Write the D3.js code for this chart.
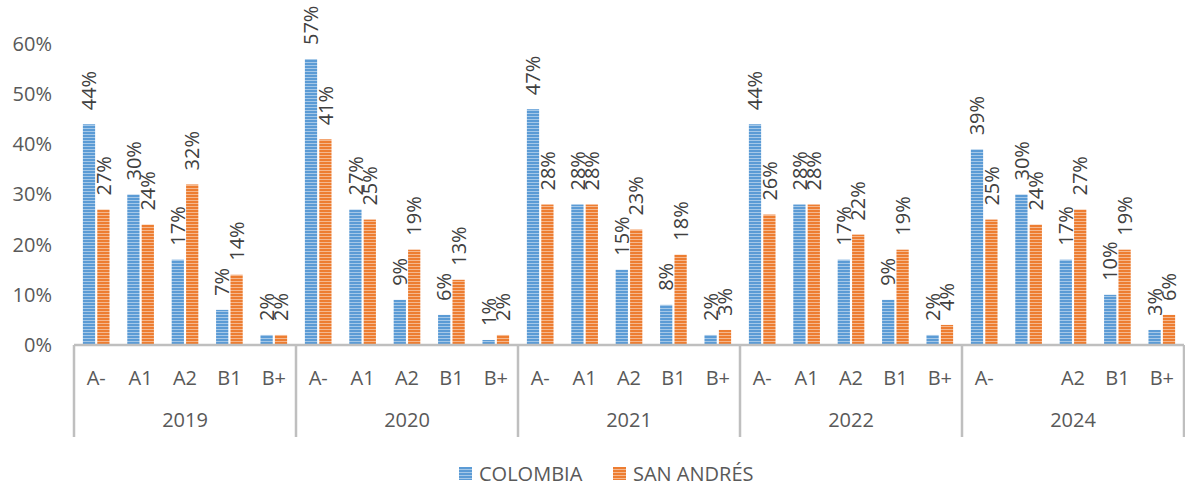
<!DOCTYPE html>
<html>
<head>
<meta charset="utf-8">
<script src="https://cdn.jsdelivr.net/npm/d3@7"></script>
<style>
  body { margin: 0; background: #fff; }
  text { font-family: "Open Sans", sans-serif; }
</style>
</head>
<body>
<script>
// chart data
const years = ["2019", "2020", "2021", "2022", "2024"];
const levels = ["A-", "A1", "A2", "B1", "B+"];
// axis labels as shown (2024 / A1 has no label in the original)
const tickLabels = [
  ["A-", "A1", "A2", "B1", "B+"],
  ["A-", "A1", "A2", "B1", "B+"],
  ["A-", "A1", "A2", "B1", "B+"],
  ["A-", "A1", "A2", "B1", "B+"],
  ["A-", "", "A2", "B1", "B+"]
];
const seriesNames = ["COLOMBIA", "SAN ANDRÉS"];
const colombia = [
  [0.44, 0.30, 0.17, 0.07, 0.02],
  [0.57, 0.27, 0.09, 0.06, 0.01],
  [0.47, 0.28, 0.15, 0.08, 0.02],
  [0.44, 0.28, 0.17, 0.09, 0.02],
  [0.39, 0.30, 0.17, 0.10, 0.03]
];
const sanAndres = [
  [0.27, 0.24, 0.32, 0.14, 0.02],
  [0.41, 0.25, 0.19, 0.13, 0.02],
  [0.28, 0.28, 0.23, 0.18, 0.03],
  [0.26, 0.28, 0.22, 0.19, 0.04],
  [0.25, 0.24, 0.27, 0.19, 0.06]
];
const yTicks = [0, 0.1, 0.2, 0.3, 0.4, 0.5, 0.6];

const width = 1185, height = 486;
const colors = ["#5b9bd5", "#ed7d31"];
const axisGray = "#bfbfbf";

const svg = d3.select("body").append("svg")
  .attr("width", width)
  .attr("height", height);

// striped fills
const defs = svg.append("defs");
colors.forEach((c, i) => {
  const p = defs.append("pattern")
    .attr("id", "stripe" + i)
    .attr("patternUnits", "userSpaceOnUse")
    .attr("width", 6).attr("height", 3);
  p.append("rect").attr("width", 6).attr("height", 3).attr("fill", c);
  p.append("rect").attr("y", 2).attr("width", 6).attr("height", 1)
    .attr("fill", "#fff").attr("opacity", 0.45);
});

const plotLeft = 74, plotRight = 1184, baseY = 345, topY = 44;

const y = d3.scaleLinear().domain([0, 0.6]).range([baseY, topY]);

const keys = [];
years.forEach((yr, i) => levels.forEach((lv, j) => keys.push(i + "|" + j)));

const xYear = d3.scaleBand().domain(years).range([plotLeft, plotRight]);
const xCat = d3.scaleBand().domain(keys).range([plotLeft, plotRight]);
const xSer = d3.scaleBand().domain(seriesNames)
  .range([xCat.bandwidth() * 0.2, xCat.bandwidth() * 0.8]).paddingInner(0.15);

// y axis
const yAxis = svg.append("g")
  .attr("transform", "translate(" + (plotLeft - 22) + ",0)")
  .call(d3.axisLeft(y).tickValues(yTicks).tickFormat(d3.format(".0%")).tickSize(0).tickPadding(0));
yAxis.select(".domain").remove();
yAxis.selectAll("text")
  .attr("fill", "#595959")
  .style("font-size", "20px")
  .style("font-family", "Open Sans");

// bars
const rows = [];
years.forEach((yr, i) => levels.forEach((lv, j) => {
  rows.push({ key: i + "|" + j, s: seriesNames[0], v: colombia[i][j], idx: 0 });
  rows.push({ key: i + "|" + j, s: seriesNames[1], v: sanAndres[i][j], idx: 1 });
}));

svg.append("g").selectAll("rect")
  .data(rows)
  .enter()
  .append("rect")
  .attr("x", d => xCat(d.key) + xSer(d.s))
  .attr("y", d => y(d.v))
  .attr("width", xSer.bandwidth())
  .attr("height", d => baseY - y(d.v))
  .attr("fill", d => "url(#stripe" + d.idx + ")");

// data labels, rotated
svg.append("g").selectAll("text")
  .data(rows)
  .enter()
  .append("text")
  .attr("transform", d => "translate(" + (xCat(d.key) + xSer(d.s) + xSer.bandwidth() / 2) + "," + (y(d.v) - 14) + ") rotate(-90)")
  .attr("dy", "0.36em")
  .attr("fill", "#404040")
  .style("font-size", "20px")
  .text(d => Math.round(d.v * 100) + "%");

// category axis
const xAxis = svg.append("g")
  .attr("transform", "translate(0," + baseY + ")")
  .call(d3.axisBottom(xCat).tickSize(0).tickPadding(0)
    .tickFormat(k => { const p = k.split("|"); return tickLabels[+p[0]][+p[1]]; }));
xAxis.select(".domain").remove();
xAxis.selectAll("text")
  .attr("y", 33)
  .attr("dy", "0.35em")
  .attr("fill", "#595959")
  .style("font-size", "20px")
  .style("font-family", "Open Sans");

const yearAxis = svg.append("g")
  .attr("transform", "translate(0," + baseY + ")")
  .call(d3.axisBottom(xYear).tickSize(0).tickPadding(0));
yearAxis.select(".domain").remove();
yearAxis.selectAll("text")
  .attr("y", 75)
  .attr("dy", "0.35em")
  .attr("fill", "#595959")
  .style("font-size", "20px")
  .style("font-family", "Open Sans");

// axis lines and group separators
svg.append("line")
  .attr("x1", plotLeft).attr("x2", plotRight)
  .attr("y1", baseY).attr("y2", baseY)
  .attr("stroke", axisGray).attr("stroke-width", 2.5);

const seps = years.map(yr => xYear(yr)).concat([plotRight]);
svg.append("g").selectAll("line")
  .data(seps)
  .enter()
  .append("line")
  .attr("x1", d => d).attr("x2", d => d)
  .attr("y1", baseY).attr("y2", 437)
  .attr("stroke", axisGray).attr("stroke-width", 2.5);

// legend
const legendX = [459, 613];
const legend = svg.append("g").selectAll("g")
  .data(seriesNames)
  .enter()
  .append("g")
  .attr("transform", (d, i) => "translate(" + legendX[i] + ",467)");
legend.append("rect")
  .attr("width", 13).attr("height", 13)
  .attr("fill", (d, i) => "url(#stripe" + i + ")");
legend.append("text")
  .attr("x", 20).attr("y", 7)
  .attr("dy", "0.35em")
  .attr("fill", "#595959")
  .style("font-size", "20px")
  .text(d => d);
</script>
</body>
</html>
